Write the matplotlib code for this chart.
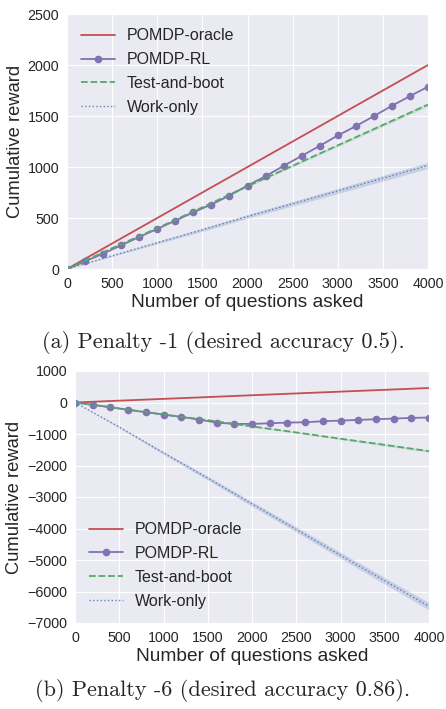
import numpy as np
import matplotlib
matplotlib.use("Agg")
import matplotlib.pyplot as plt
import seaborn as sns

# ---- data ----
labels = ["POMDP-oracle", "POMDP-RL", "Test-and-boot", "Work-only"]

# (a) penalty -1
a_x_rl = [0, 200, 400, 600, 800, 1000, 1200, 1400, 1600, 1800, 2000,
          2200, 2400, 2600, 2800, 3000, 3200, 3400, 3600, 3800, 4000]
a_rl = [0, 75, 150, 232, 314, 393, 474, 556, 632, 720, 818,
        910, 1011, 1109, 1207, 1309, 1400, 1499, 1600, 1695, 1787]
a_x = [0, 500, 1000, 1500, 2000, 2500, 3000, 3500, 4000]
a_oracle = [0, 250, 500, 750, 1000, 1250, 1500, 1750, 2000]
a_tb = [0, 205, 400, 605, 812, 1012, 1212, 1412, 1612]
a_tb_err = [0, 3, 5, 7, 9, 11, 13, 15, 17]
a_wo = [0, 130, 258, 385, 515, 640, 765, 890, 1015]
a_wo_err = [0, 8, 12, 16, 19, 22, 25, 28, 30]

# (b) penalty -6
b_rl = [0, -74, -149, -234, -308, -383, -457, -542, -638, -680, -680,
        -659, -638, -627, -595, -574, -553, -531, -510, -489, -478]
b_oracle = [0, 58, 115, 172, 230, 288, 345, 402, 460]
b_tb = [0, -190, -380, -560, -760, -950, -1150, -1345, -1545]
b_tb_err = [0, 5, 10, 15, 20, 25, 30, 35, 40]
b_wo = [0, -780, -1600, -2400, -3220, -4030, -4850, -5660, -6470]
b_wo_err = [0, 25, 45, 60, 75, 85, 95, 105, 115]

sns.set_style("darkgrid")
plt.rcParams["font.family"] = ["Liberation Sans", "DejaVu Sans"]

red, purple, green, blue = "#C44E52", "#8172B2", "#55A868", "#4C72B0"

fig = plt.figure(figsize=(4.46, 7.09), dpi=100)
W, H = 446, 709
ax1 = fig.add_axes([67 / W, 1 - 269 / H, (428 - 67) / W, (269 - 14) / H])
ax2 = fig.add_axes([75 / W, 1 - 623 / H, (429 - 75) / W, (623 - 371) / H])


def draw(ax, oracle, rl, tb, tb_err, wo, wo_err):
    x = np.array(a_x)
    tb, tb_err, wo, wo_err = map(np.array, (tb, tb_err, wo, wo_err))
    ax.fill_between(x, wo - wo_err, wo + wo_err, color=blue, alpha=0.22, lw=0)
    ax.fill_between(x, tb - tb_err, tb + tb_err, color=green, alpha=0.22, lw=0)
    ax.plot(x, oracle, color=red, lw=1.3, label=labels[0])
    ax.plot(a_x_rl, rl, color=purple, lw=1.3, marker="o", ms=4.5, label=labels[1])
    ax.plot(x, tb, color=green, lw=1.3, ls="--", label=labels[2])
    ax.plot(x, wo, color=blue, lw=1.0, ls=":", alpha=0.85, label=labels[3])
    ax.set_xlim(0, 4000)
    ax.set_xticks(range(0, 4001, 500))
    ax.tick_params(labelsize=10.3, pad=2, colors="#262626")
    ax.set_xlabel("Number of questions asked", fontsize=13.8, labelpad=2.5, color="#262626")
    ax.set_ylabel("Cumulative reward", fontsize=13.2, labelpad=3, color="#262626")


draw(ax1, a_oracle, a_rl, a_tb, a_tb_err, a_wo, a_wo_err)
ax1.set_ylim(0, 2500)
ax1.legend(loc="upper left", frameon=False, fontsize=11.5, handlelength=2.1,
           handletextpad=0.75, borderaxespad=0.5, labelspacing=0.55)

draw(ax2, b_oracle, b_rl, b_tb, b_tb_err, b_wo, b_wo_err)
ax2.set_ylim(-7000, 1000)
ax2.set_yticks(range(-7000, 1001, 1000))
ax2.legend(loc="lower left", frameon=False, fontsize=11.5, handlelength=2.1,
           handletextpad=0.75, borderaxespad=0.5, labelspacing=0.55)

cap = dict(ha="center", va="center", fontsize=16, family=["cmr10", "DejaVu Serif"])
fig.text(0.5, 1 - 343 / H, "(a) Penalty -1 (desired accuracy 0.5).", **cap)
fig.text(0.5, 1 - 690 / H, "(b) Penalty -6 (desired accuracy 0.86).", **cap)

fig.savefig("out.png", dpi=100, facecolor="white")
